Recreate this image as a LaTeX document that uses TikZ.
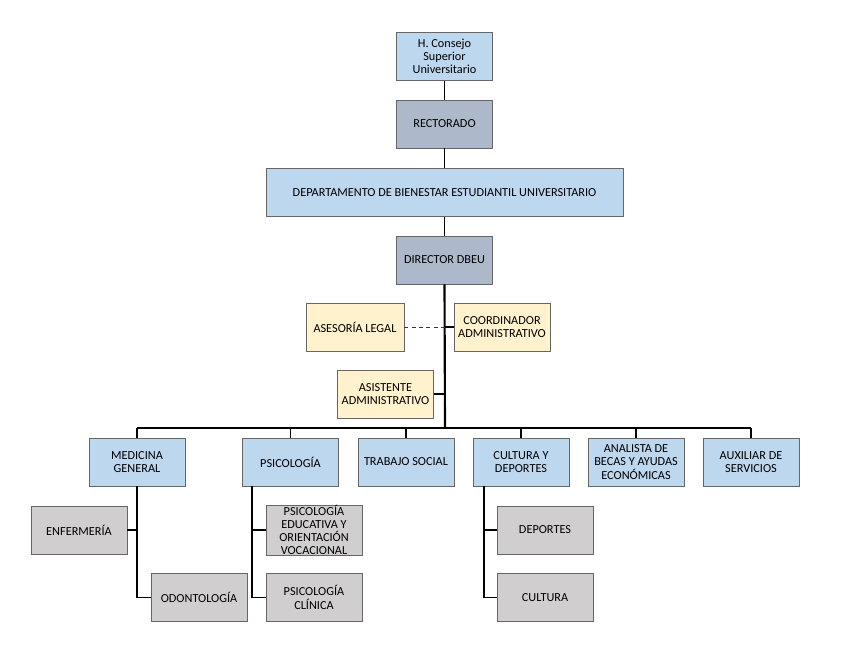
\documentclass[tikz,border=0pt]{standalone}
\usepackage{fontspec}
\setmainfont{Carlito}
\begin{document}
\begin{tikzpicture}[x=0.75pt,y=-0.75pt,
  box/.style={draw=black!60, line width=0.6pt, minimum width=72pt, minimum height=36pt, inner sep=0pt, align=center, font=\fontsize{9.2}{9.9}\selectfont},
  blue/.style={box, fill=blueA},
  slate/.style={box, fill=slateA},
  cream/.style={box, fill=creamA},
  grey/.style={box, fill=greyA},
  link/.style={draw=black, line width=0.8pt},
  trunk/.style={draw=black, line width=1.6pt}]
\definecolor{blueA}{HTML}{BDD7EE}
\definecolor{slateA}{HTML}{ADB9CA}
\definecolor{creamA}{HTML}{FFF2CC}
\definecolor{greyA}{HTML}{D0CECE}
\useasboundingbox (0,0) rectangle (856,664);
% top chain
\node[blue] (hcs) at (444.5,56.5) {H. Consejo\\Superior\\Universitario};
\node[slate] (rec) at (444.5,124) {RECTORADO};
\node[blue, minimum width=267.75pt] (dep) at (444.5,192.5) {DEPARTAMENTO DE BIENESTAR ESTUDIANTIL UNIVERSITARIO};
\node[slate] (dir) at (444.5,260) {DIRECTOR DBEU};
\draw[link] (hcs) -- (rec);
\draw[link] (rec) -- (dep);
\draw[link] (dep) -- (dir);
% staff
\node[cream, minimum width=73.5pt] (ase) at (355,327) {ASESORÍA LEGAL};
\node[cream] (coo) at (502,327) {COORDINADOR\\ADMINISTRATIVO};
\node[cream] (asi) at (385.5,394) {ASISTENTE\\ADMINISTRATIVO};
\coordinate (bus) at (445,428);
\coordinate (jc) at (445,327);
\coordinate (ja) at (445,394);
\draw[trunk] (dir.south) -- (bus);
\draw[draw=black!80, line width=0.6pt, dash pattern=on 3pt off 2.5pt] (ase.east) -- (jc);
\draw[link] (jc) -- (coo.west);
\draw[link] (asi.east) -- (ja);
% second row
\node[blue] (med) at (137,462) {MEDICINA\\GENERAL};
\node[blue] (psi) at (290.5,462) {PSICOLOGÍA};
\node[blue] (tra) at (406,462) {TRABAJO SOCIAL};
\node[blue] (cul) at (521,462) {CULTURA Y\\DEPORTES};
\node[blue] (ana) at (636,462) {ANALISTA DE\\BECAS Y AYUDAS\\ECONÓMICAS};
\node[blue] (aux) at (751,462) {AUXILIAR DE\\SERVICIOS};
\coordinate (bl) at (137,428);
\coordinate (br) at (751,428);
\draw[link] (bl) -- (br);
\foreach \n in {med,psi,tra,cul,ana,aux} \draw[link] (\n.north) -- (\n.north |- bus);
% third row
\node[grey] (enf) at (79,530) {ENFERMERÍA};
\node[grey] (odo) at (199,597.5) {ODONTOLOGÍA};
\node[grey] (pse) at (314,530) {PSICOLOGÍA\\EDUCATIVA Y\\ORIENTACIÓN\\VOCACIONAL};
\node[grey] (psc) at (314,597.5) {PSICOLOGÍA\\CLÍNICA};
\node[grey] (dpt) at (545,530) {DEPORTES};
\node[grey] (cur) at (545,597.5) {CULTURA};
% medicina branch
\draw[link] (med.south) |- (odo.west);
\draw[link] (enf.east) -- (enf.east -| med.south);
% psicologia branch
\coordinate (pv) at (252,486);
\draw[link] (pv) |- (psc.west);
\draw[link] (pse.west) -- (pse.west -| pv);
% cultura branch
\coordinate (cv) at (484,486);
\draw[link] (cv) |- (cur.west);
\draw[link] (dpt.west) -- (dpt.west -| cv);
\end{tikzpicture}
\end{document}
